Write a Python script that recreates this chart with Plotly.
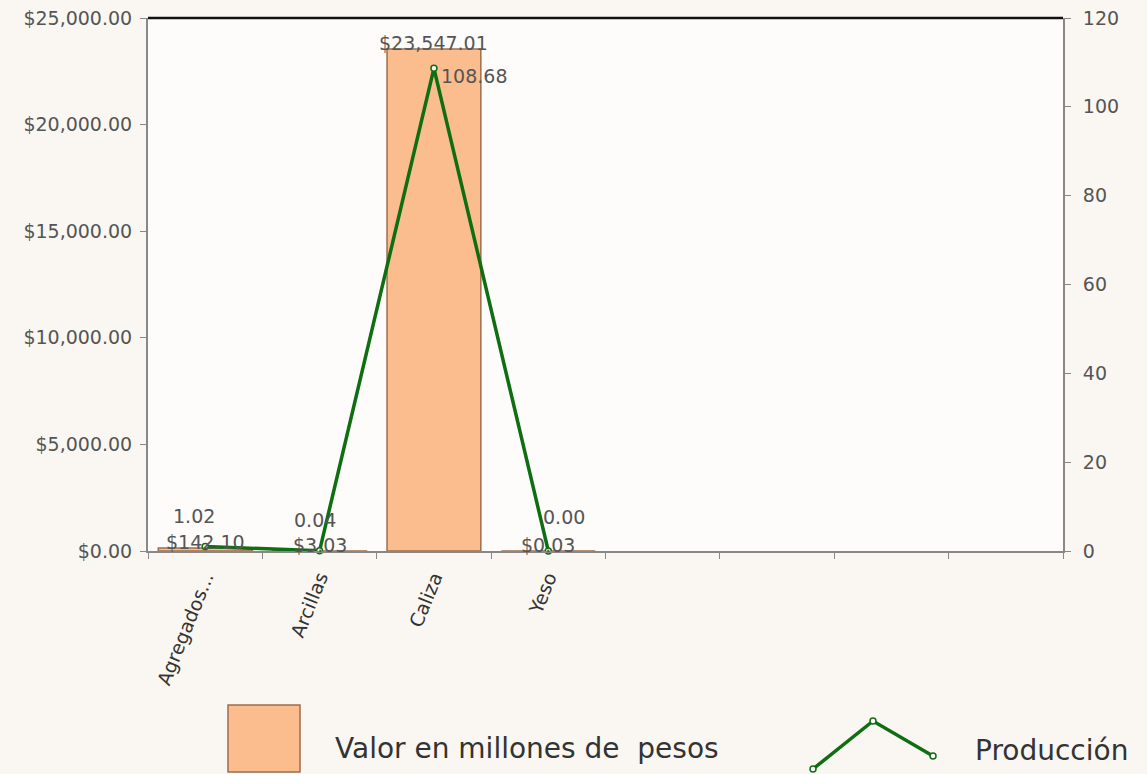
import plotly.graph_objects as go

categories = ["Agregados...", "Arcillas", "Caliza", "Yeso"]
placeholders = [" ", "  ", "   ", "    "]
valor = [142.10, 3.03, 23547.01, 0.03]
produccion = [1.02, 0.04, 108.68, 0.00]
valor_labels = ["$142.10", "$3.03", "$23,547.01", "$0.03"]
prod_labels = ["1.02", "0.04", "108.68", "0.00"]

W, H = 1147, 774
L, R, T, B = 148, 1063, 18, 551
FONT = "DejaVu Sans"
TXT = "#555555"
GREEN = "#0f6e12"
FS = 19

def px(x):
    return (x - L) / (R - L)

def py(y):
    return (B - y) / (B - T)

fig = go.Figure()
fig.add_trace(go.Bar(
    x=categories, y=valor, name="Valor en millones de  pesos",
    marker=dict(color="#fbbd8e", line=dict(color="#9c6e4c", width=1.5)),
    showlegend=False,
))
fig.add_trace(go.Scatter(
    x=categories, y=produccion, yaxis="y2", mode="lines+markers",
    name="Producción",
    line=dict(color=GREEN, width=3.5),
    marker=dict(symbol="circle", size=6, color="white", line=dict(color=GREEN, width=1.5)),
    cliponaxis=False, showlegend=False,
))

annotations = []
# bar value labels
for c, v, lab in zip(categories, valor, valor_labels):
    annotations.append(dict(x=c, y=v, xref="x", yref="y", text=lab, showarrow=False,
                            xanchor="center", yanchor="middle", yshift=6,
                            font=dict(family=FONT, size=FS, color=TXT)))
# line value labels
line_shift = [(-11, 30), (-5, 31), (5, -8), (16, 34)]
for i, (c, v, lab) in enumerate(zip(categories, produccion, prod_labels)):
    xs, ys = line_shift[i]
    annotations.append(dict(x=c, y=v, xref="x", yref="y2", text=lab, showarrow=False,
                            xanchor="left" if v > 50 else "center", yanchor="middle",
                            xshift=xs, yshift=ys,
                            font=dict(family=FONT, size=FS, color=TXT)))

# custom legend
annotations.append(dict(x=px(333), y=py(748), xref="paper", yref="paper",
                        text="Valor en millones de\u00a0 pesos", showarrow=False,
                        xanchor="left", yanchor="middle",
                        font=dict(family=FONT, size=28, color="#333333")))
annotations.append(dict(x=px(973), y=py(750), xref="paper", yref="paper",
                        text="Producción", showarrow=False,
                        xanchor="left", yanchor="middle",
                        font=dict(family=FONT, size=28, color="#333333")))

shapes = [
    dict(type="line", xref="paper", yref="paper", x0=0, x1=1, y0=1, y1=1,
         line=dict(color="#111111", width=2.5)),
    dict(type="rect", xref="paper", yref="paper", x0=px(228), x1=px(300), y0=py(705), y1=py(772),
         fillcolor="#fbbd8e", line=dict(color="#9c6e4c", width=1.5)),
    dict(type="path", xref="paper", yref="paper",
         path=f"M {px(813)} {py(769)} L {px(873)} {py(721)} L {px(933)} {py(756)}",
         line=dict(color=GREEN, width=3.5)),
]
for (xx, yy) in [(813, 769), (873, 721), (933, 756)]:
    shapes.append(dict(type="circle", xref="paper", yref="paper",
                       x0=px(xx - 3), x1=px(xx + 3), y0=py(yy + 3), y1=py(yy - 3),
                       fillcolor="white", line=dict(color=GREEN, width=1.5)))

axis_common = dict(ticks="outside", ticklen=6, tickcolor="#888888",
                   showline=True, linecolor="#888888", linewidth=2,
                   showgrid=False, automargin=False)

fig.update_layout(
    width=W, height=H,
    margin=dict(l=L, r=W - R, t=T, b=H - B, autoexpand=False),
    paper_bgcolor="#faf7f2",
    plot_bgcolor="rgba(255,255,255,0.6)",
    font=dict(family=FONT, size=FS, color=TXT),
    bargap=0.18,
    showlegend=False,
    xaxis=dict(
        type="category",
        categoryorder="array", categoryarray=categories + placeholders,
        range=[-0.5, 7.5],
        tickson="boundaries", tickangle=-68,
        tickfont=dict(family=FONT, size=FS, color="#333333"),
        ticklabelstandoff=6,
        **axis_common,
    ),
    yaxis=dict(
        range=[0, 25000], dtick=5000, tickformat="$,.2f", zeroline=False,
        tickfont=dict(family=FONT, size=FS, color=TXT),
        ticklabelstandoff=4,
        **axis_common,
    ),
    yaxis2=dict(
        overlaying="y", side="right", range=[0, 120], dtick=20, zeroline=False,
        tickfont=dict(family=FONT, size=FS, color=TXT),
        ticklabelstandoff=8,
        **axis_common,
    ),
    annotations=annotations,
    shapes=shapes,
)

fig.write_html("out.html", config={"displayModeBar": False},
               post_script="document.body.style.margin='0';document.body.style.background='#faf7f2';")
